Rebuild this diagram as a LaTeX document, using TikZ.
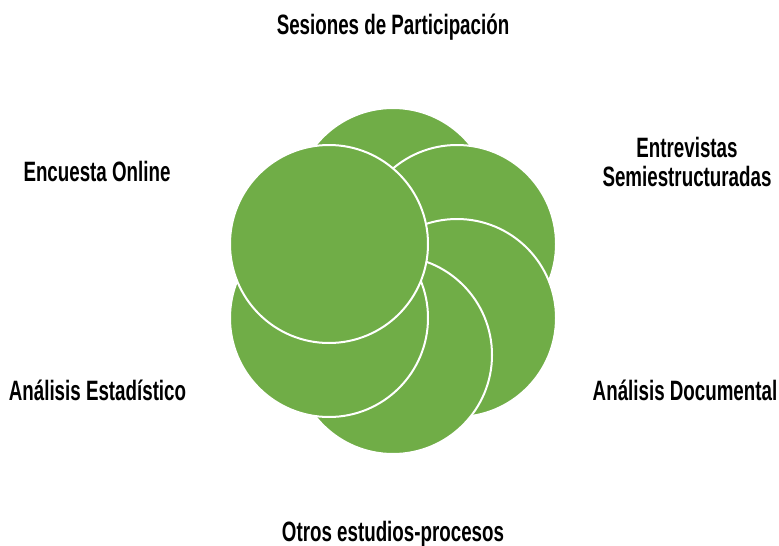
\documentclass[tikz,border=0pt]{standalone}
\usepackage{fontspec}
\newfontfamily\etiqfont{Liberation Sans}[FakeStretch=0.67]
\definecolor{verde}{HTML}{70AD47}
\tikzset{
  circulo/.style={fill=verde,draw=white,line width=2pt},
  etiq/.style={font=\etiqfont\bfseries\fontsize{28}{29}\selectfont,align=center,inner sep=0pt}
}
\begin{document}
\begin{tikzpicture}[x=1pt,y=-1pt]
				\useasboundingbox (0,0) rectangle (779,546);
				% circulos, del fondo hacia delante
				\draw[circulo] (393,207) circle (99pt);
				\draw[circulo] (457,244) circle (99pt);
				\draw[circulo] (457,318) circle (99pt);
				\draw[circulo] (393,355) circle (99pt);
				\draw[circulo] (329,318) circle (99pt);
				\draw[circulo] (329,244) circle (99pt);
				% etiquetas
				\node[etiq,anchor=base] (sesiones) at (393,34) {Sesiones de Participación};
				\node[etiq] (entrevistas) at (687,162) {Entrevistas\\Semiestructuradas};
				\node[etiq,anchor=base] (documental) at (685,400) {Análisis Documental};
				\node[etiq,anchor=base] (otros) at (393,541) {Otros estudios-procesos};
				\node[etiq,anchor=base] (estadistico) at (97.5,400) {Análisis Estadístico};
				\node[etiq,anchor=base] (encuesta) at (97,181) {Encuesta Online};
			\end{tikzpicture}
\end{document}
